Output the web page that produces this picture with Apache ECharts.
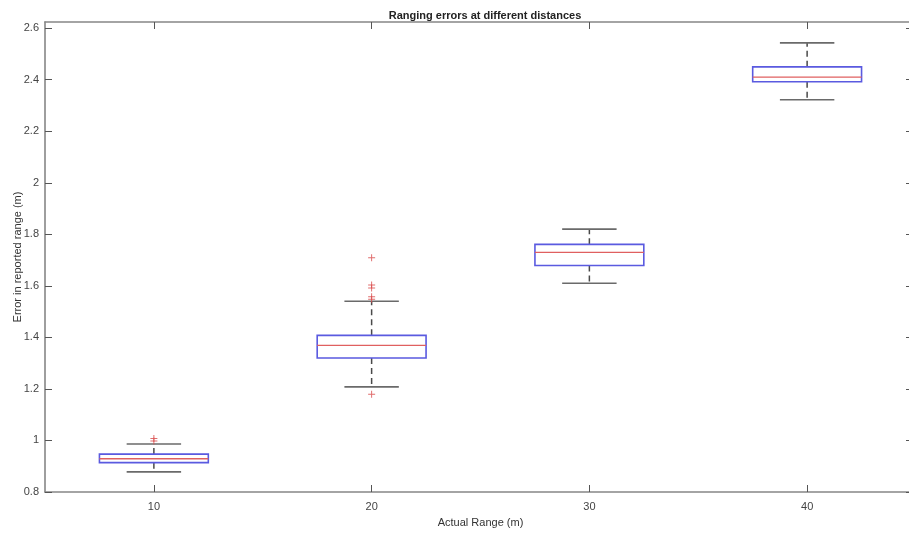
<!DOCTYPE html>
<html>
<head>
<meta charset="utf-8">
<script src="https://cdn.jsdelivr.net/npm/echarts@6/dist/echarts.min.js"></script>
<style>
  html, body { margin: 0; padding: 0; background: #fff; }
  #main { width: 909px; height: 536px; }
</style>
</head>
<body>
<div id="main"></div>
<script>
// 数据
var categories = [10, 20, 30, 40];
var lowerWhisker = [0.878, 1.208, 1.610, 2.322];
var q1 = [0.914, 1.320, 1.679, 2.392];
var median = [0.929, 1.369, 1.730, 2.410];
var q3 = [0.947, 1.408, 1.761, 2.450];
var upperWhisker = [0.986, 1.540, 1.820, 2.543];
var outlierX = [10, 10, 20, 20, 20, 20, 20, 20];
var outlierY = [0.998, 1.008, 1.709, 1.603, 1.592, 1.558, 1.548, 1.179];
var yTicks = [0.8, 1, 1.2, 1.4, 1.6, 1.8, 2, 2.2, 2.4, 2.6];

var font = 'Liberation Sans, Arial, sans-serif';
var axisColor = '#868686';
var boxWidth = 5;   // 数据单位
var capWidth = 2.5;

var boxData = categories.map(function (c, i) {
  return [c, lowerWhisker[i], q1[i], median[i], q3[i], upperWhisker[i]];
});
var outlierData = outlierX.map(function (x, i) { return [x, outlierY[i]]; });

function renderBox(params, api) {
  var x = api.value(0);
  var pLow = api.coord([x, api.value(1)]);
  var pQ1 = api.coord([x, api.value(2)]);
  var pMed = api.coord([x, api.value(3)]);
  var pQ3 = api.coord([x, api.value(4)]);
  var pHigh = api.coord([x, api.value(5)]);
  var half = api.size([boxWidth, 0])[0] / 2;
  var capHalf = api.size([capWidth, 0])[0] / 2;
  var cx = pMed[0];
  var whisk = { stroke: '#4a4a4a', lineWidth: 1.5, lineDash: [6, 4] };
  var cap = { stroke: '#6a6a6a', lineWidth: 1.6 };
  return {
    type: 'group',
    children: [
      { type: 'line', shape: { x1: cx, y1: pQ3[1], x2: cx, y2: pHigh[1] }, style: whisk },
      { type: 'line', shape: { x1: cx, y1: pQ1[1], x2: cx, y2: pLow[1] }, style: whisk },
      { type: 'line', shape: { x1: cx - capHalf, y1: pHigh[1], x2: cx + capHalf, y2: pHigh[1] }, style: cap },
      { type: 'line', shape: { x1: cx - capHalf, y1: pLow[1], x2: cx + capHalf, y2: pLow[1] }, style: cap },
      { type: 'rect', shape: { x: cx - half, y: pQ3[1], width: half * 2, height: pQ1[1] - pQ3[1] },
        style: { fill: '#fff', stroke: '#5a5ae0', lineWidth: 1.6 } },
      { type: 'line', shape: { x1: cx - half, y1: pMed[1], x2: cx + half, y2: pMed[1] },
        style: { stroke: '#e06060', lineWidth: 1.4 } }
    ]
  };
}

var myChart = echarts.init(document.getElementById('main'));
var option = {
  backgroundColor: '#fff',
  animation: false,
  title: {
    text: 'Ranging errors at different distances',
    left: 480, top: 5, textAlign: 'center',
    textStyle: { fontFamily: font, fontSize: 11, fontWeight: 'bold', color: '#222' }
  },
  grid: { left: 45, right: -7, top: 22, bottom: 44, outerBoundsMode: 'none', containLabel: false },
  xAxis: [{
    type: 'value', min: 5, max: 45, position: 'bottom',
    name: 'Actual Range (m)', nameLocation: 'middle', nameGap: 25, nameMoveOverlap: false,
    nameTextStyle: { fontFamily: font, fontSize: 11, color: '#333' },
    axisLine: { lineStyle: { color: axisColor, width: 1.6 } },
    axisTick: { inside: true, length: 7, customValues: categories, lineStyle: { color: '#555' } },
    axisLabel: { customValues: categories, margin: 9, fontFamily: font, fontSize: 11, color: '#444' },
    splitLine: { show: false }
  }, {
    type: 'value', min: 5, max: 45, position: 'top',
    axisLine: { lineStyle: { color: axisColor, width: 1.6 } },
    axisTick: { inside: true, length: 7, customValues: categories, lineStyle: { color: '#555' } },
    axisLabel: { show: false },
    splitLine: { show: false }
  }],
  yAxis: [{
    type: 'value', min: 0.8, max: 2.624, position: 'left',
    name: 'Error in reported range (m)', nameLocation: 'middle', nameGap: 22, nameMoveOverlap: false,
    nameTextStyle: { fontFamily: font, fontSize: 11, color: '#333' },
    axisLine: { show: true, lineStyle: { color: axisColor, width: 1.6 } },
    axisTick: { show: true, inside: true, length: 7, customValues: yTicks, lineStyle: { color: '#555' } },
    axisLabel: { customValues: yTicks, margin: 6, fontFamily: font, fontSize: 11, color: '#444' },
    splitLine: { show: false }
  }, {
    type: 'value', min: 0.8, max: 2.624, position: 'right',
    axisLine: { show: true, lineStyle: { color: axisColor, width: 1.6 } },
    axisTick: { show: true, inside: true, length: 10, customValues: yTicks, lineStyle: { color: '#555' } },
    axisLabel: { show: false },
    splitLine: { show: false }
  }],
  series: [{
    type: 'custom',
    renderItem: renderBox,
    encode: { x: 0, y: [1, 2, 3, 4, 5] },
    data: boxData
  }, {
    type: 'scatter',
    symbol: 'path://M4.3,0h1.4v10h-1.4zM0,4.3h10v1.4h-10z',
    symbolSize: 7,
    itemStyle: { color: '#d84848' },
    data: outlierData
  }]
};
myChart.setOption(option);
</script>
</body>
</html>
